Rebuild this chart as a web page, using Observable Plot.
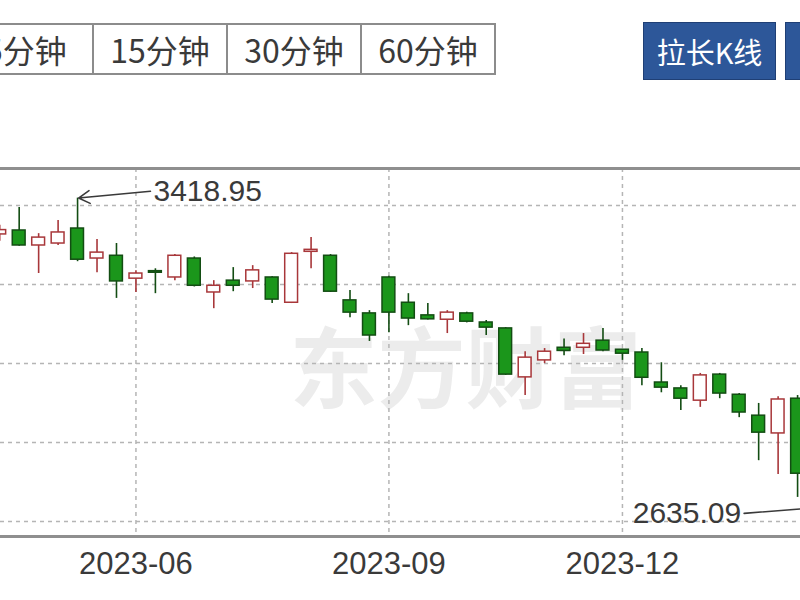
<!DOCTYPE html>
<html>
<head>
<meta charset="utf-8">
<script src="https://cdn.jsdelivr.net/npm/d3@7"></script>
<script src="https://cdn.jsdelivr.net/npm/@observablehq/plot@0.6"></script>
<style>
  html, body { margin: 0; padding: 0; background: #fff; overflow: hidden; }
  #wrap { position: relative; width: 800px; height: 600px; overflow: hidden; background: #fff; }
  #chart { position: absolute; left: 0; top: 0; }
  .grp { position: absolute; left: -42px; top: 23px; height: 48px; display: flex;
         border: 2px solid #8c8c8c; background: #fff; }
  .grp div { width: 132px; height: 48px; line-height: 48px; text-align: center;
             font-family: "Noto Sans CJK SC", "Liberation Sans", sans-serif; font-size: 32px;
             color: #3a3a3a; border-left: 2px solid #8c8c8c; box-sizing: content-box; }
  .grp div:first-child { border-left: none; }
  .btn { position: absolute; top: 22px; height: 56px; line-height: 56px; background: #2d5799;
         color: #fff; text-align: center; font-family: "Noto Sans CJK SC", sans-serif; font-size: 29px;
         border: 1px solid #1f3f75; }
</style>
</head>
<body>
<div id="wrap">
  <div id="chart"></div>
  <div class="grp" id="periods"></div>
  <div class="btn" style="left:643px;width:131px;">拉长K线</div>
  <div class="btn" style="left:785px;width:60px;"></div>
</div>
<script>
// ---- data (SSE Composite, weekly candles) ----
const weeks = ["2023-04-10","2023-04-17","2023-04-24","2023-05-01","2023-05-08","2023-05-15","2023-05-22","2023-05-29",
  "2023-06-05","2023-06-12","2023-06-19","2023-06-26","2023-07-03","2023-07-10","2023-07-17","2023-07-24","2023-07-31",
  "2023-08-07","2023-08-14","2023-08-21","2023-08-28","2023-09-04","2023-09-11","2023-09-18","2023-09-25","2023-10-09",
  "2023-10-16","2023-10-23","2023-10-30","2023-11-06","2023-11-13","2023-11-20","2023-11-27","2023-12-04","2023-12-11",
  "2023-12-18","2023-12-25","2024-01-01","2024-01-08","2024-01-15","2024-01-22","2024-01-29","2024-02-05"];
const open  = [3327,3337,3299,3304,3342,3266,3273,3215,3234,3218,3266,3180,3210,3208,3218,3154,3283,3273,3160,3127,3218,3154,3122,3111,3127,3104,3089,2965,3008,3040,3040,3058,3035,3028,2952,2937,2906,2972,2921,2868,2823,2911,2715];
const high  = [3350,3395,3329,3362,3418.95,3314,3304,3235,3240,3276,3270,3210,3243,3248,3220,3281,3319,3276,3185,3134,3221,3177,3152,3134,3130,3109,3091,3030,3038,3062,3076,3089,3036,3038,3002,2944,2975,2975,2924,2899,2916,2919,2866];
const low   = [3310,3297,3228,3299,3258,3230,3165,3180,3177,3210,3194,3139,3182,3190,3152,3152,3240,3180,3116,3056,3078,3096,3110,3076,3103,3071,2970,2919,3000,3020,3023,3030,3008,2944,2926,2881,2889,2911,2863,2754,2719,2661,2635.09];
const close = [3338,3299,3319,3332,3263,3281,3208,3228,3230,3273,3197,3197,3197,3236,3162,3278,3288,3182,3129,3071,3129,3114,3112,3129,3106,3091,2972,3015,3030,3032,3050,3033,3025,2964,2939,2911,2970,2924,2876,2825,2909,2721,2865.9];

const tickWeeks  = ["2023-05-29","2023-08-28","2023-11-27"];
const tickLabels = ["2023-06","2023-09","2023-12"];
const gridPrices = [2600, 2800, 3000, 3200, 3400];
const periodLabels = ["5分钟","15分钟","30分钟","60分钟"];
const watermark = "东方财富";
const xDomain = [0.04, 41.15];   // visible window, in weeks
const yDomain = [2562, 3494];

// ---- build ----
document.getElementById("periods").innerHTML = periodLabels.map(t => `<div>${t}</div>`).join("");

const data = weeks.map((w, i) => ({i, w, o: open[i], h: high[i], l: low[i], c: close[i], up: close[i] >= open[i]}));
const tickIdx = tickWeeks.map(w => weeks.indexOf(w));
const labelOf = new Map(tickIdx.map((t, k) => [t, tickLabels[k]]));

const UP = "#a8373a", DOWN_FILL = "#1b961b", DOWN_STROKE = "#134d13";
const half = 0.33;
const gap = 3.9;
const iHi = d3.maxIndex(high), iLo = d3.minIndex(low);
const hiAnno = [{x: iHi, y: high[iHi], tx: iHi + gap, ty: high[iHi] + 18, t: high[iHi].toFixed(2)}];
const loAnno = [{x: iLo, y: low[iLo], tx: iLo - gap, ty: low[iLo] - 15, t: low[iLo].toFixed(2)}];

const chart = Plot.plot({
  width: 800, height: 600,
  marginTop: 168, marginBottom: 64, marginLeft: 0, marginRight: 0,
  style: {fontFamily: "'Liberation Sans', Arial, sans-serif", background: "transparent"},
  x: {domain: xDomain, axis: null},
  y: {domain: yDomain, axis: null},
  marks: [
    Plot.text([watermark], {frameAnchor: "middle", dx: 65, dy: 20, text: d => d, fontSize: 88, fontWeight: "bold",
      fill: "#ececec", fontFamily: "'Noto Sans CJK SC', sans-serif"}),
    Plot.gridY(gridPrices, {stroke: "#b5b5b5", strokeOpacity: 1, strokeDasharray: "4,4", strokeWidth: 1.5}),
    Plot.gridX(tickIdx, {stroke: "#b5b5b5", strokeOpacity: 1, strokeDasharray: "4,4", strokeWidth: 1.5}),
    Plot.ruleY(yDomain, {stroke: "#8f8f8f", strokeWidth: 3}),
    Plot.ruleX(data, {x: "i", y1: "l", y2: "h", stroke: d => d.up ? UP : DOWN_STROKE, strokeWidth: 1.6, clip: true}),
    Plot.rect(data, {x1: d => d.i - half, x2: d => d.i + half, y1: "o", y2: "c",
      fill: d => d.up ? "#ffffff" : DOWN_FILL, stroke: d => d.up ? UP : DOWN_STROKE, strokeWidth: 1.5, clip: true}),
    Plot.arrow(hiAnno, {x1: "tx", y1: "ty", x2: "x", y2: "y", stroke: "#3a3a3a", strokeWidth: 1.6, headLength: 12, insetStart: 3, insetEnd: 1, clip: true}),
    Plot.arrow(loAnno, {x1: "tx", y1: "ty", x2: "x", y2: "y", stroke: "#3a3a3a", strokeWidth: 1.6, headLength: 12, insetStart: 3, insetEnd: 1, clip: true}),
    Plot.text(hiAnno, {x: "tx", y: "ty", text: "t", textAnchor: "start", fontSize: 30, fill: "#3a3a3a"}),
    Plot.text(loAnno, {x: "tx", y: "ty", text: "t", textAnchor: "end", fontSize: 30, fill: "#3a3a3a"}),
    Plot.axisX(tickIdx, {tickFormat: d => labelOf.get(d), tickSize: 0, tickPadding: 15, fontSize: 31, fill: "#3a3a3a"})
  ]
});
document.getElementById("chart").appendChild(chart);
</script>
</body>
</html>
